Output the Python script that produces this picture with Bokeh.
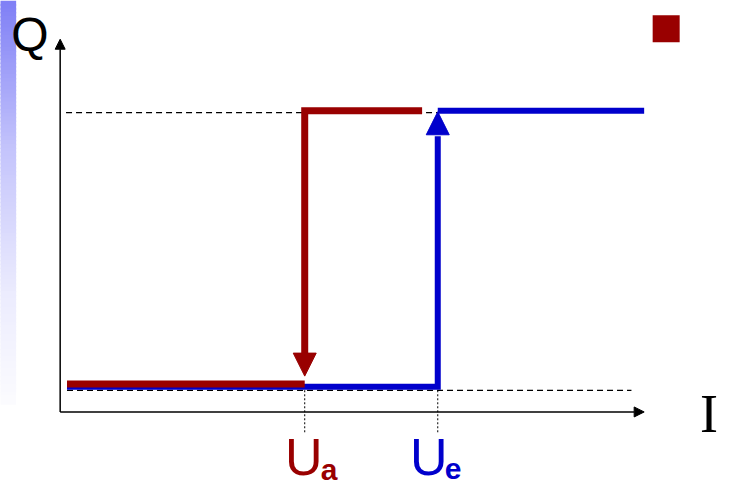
import numpy as np
from bokeh.plotting import figure
from bokeh.models import Range1d, Arrow, NormalHead, ColumnDataSource
from bokeh.core.properties import value
from bokeh.embed import file_html
from bokeh.resources import INLINE

# ---- data (chart units: x = input, y = output Q) ----
U_a = 5.0            # switch-off threshold
U_e = 7.72           # switch-on threshold
x_start = 0.14
red_top_end = 7.4
blue_end = 11.94
dash_low_end = 11.68
dash_high_start = 0.12
q_high = 1.0
q_dash_high = 0.994
q_low_red = 0.093
q_low_blue = 0.084
q_dash_low = 0.072
red_tip = 0.119
red_head_base = 0.196
blue_tip = 0.997
blue_head_base = 0.916
dot_bottom = -0.074
x_axis_end = 11.94
y_axis_end = 1.238
marker_x = [12.39]
marker_y = [1.273]
label_main = ["U", "U"]
label_sub = ["a", "e"]
label_x = [U_a, U_e]

RED = "#990000"
BLUE = "#0000CC"

W, H = 718, 486
# view window in chart units
x0 = (0 - 61) / 50
x1 = (734 - 61) / 50
y0 = (425 - 502) / 311
y1 = (425 - 0) / 311

p = figure(width=W, height=H, output_backend="svg", toolbar_location=None,
           x_range=Range1d(x0, x1), y_range=Range1d(y0, y1), min_border=0)
p.axis.visible = False
p.grid.visible = False
p.outline_line_color = None
p.background_fill_color = "white"
p.border_fill_color = "white"

# left decorative gradient bar
ys_px = np.arange(0, 416, 4)
r = np.interp(ys_px, [0, 150, 300, 415], [128, 196, 236, 252])
b = np.interp(ys_px, [0, 150, 300, 415], [246, 252, 254, 255])
cols = ["#%02x%02x%02x" % (int(a), int(a), int(c)) for a, c in zip(r, b)]
p.quad(left=(0 - 61) / 50 - 0.1, right=(16 - 61) / 50,
       top=(425 - ys_px) / 311, bottom=(425 - ys_px - 5.5) / 311,
       fill_color=cols, line_color=None)

# axes with arrows
p.add_layout(Arrow(x_start=0, y_start=0, x_end=0, y_end=y_axis_end,
                   line_width=1.5, line_color="black",
                   end=NormalHead(size=10, fill_color="black", line_color="black")))
p.add_layout(Arrow(x_start=0, y_start=0, x_end=x_axis_end, y_end=0,
                   line_width=1.5, line_color="black",
                   end=NormalHead(size=10, fill_color="black", line_color="black")))

# dashed reference lines
p.line([dash_high_start, U_e], [q_dash_high, q_dash_high], line_color="black",
       line_width=1.3, line_dash="6 4")
p.line([x_start, dash_low_end], [q_dash_low, q_dash_low], line_color="black",
       line_width=1.3, line_dash="6 4")
# dotted drop lines
p.segment(x0=label_x, y0=[q_dash_low] * 2, x1=label_x, y1=[dot_bottom] * 2,
          line_color="black", line_width=1, line_dash="2 2")

# blue curve (switching on)
p.line([x_start, U_e, U_e], [q_low_blue, q_low_blue, blue_head_base],
       line_color=BLUE, line_width=6, line_join="miter")
p.line([U_e, blue_end], [q_high, q_high], line_color=BLUE, line_width=6)
p.add_layout(Arrow(x_start=U_e, y_start=blue_head_base, x_end=U_e, y_end=blue_tip,
                   line_alpha=0, line_width=1,
                   end=NormalHead(size=23, fill_color=BLUE, line_color=BLUE, line_width=1)))

# red curve (switching off)
p.line([x_start, U_a], [q_low_red, q_low_red], line_color=RED, line_width=7)
p.line([U_a, U_a, red_top_end], [red_head_base, q_high, q_high],
       line_color=RED, line_width=7, line_join="miter")
p.add_layout(Arrow(x_start=U_a, y_start=red_head_base, x_end=U_a, y_end=red_tip,
                   line_alpha=0, line_width=1,
                   end=NormalHead(size=23, fill_color=RED, line_color=RED, line_width=1)))

# legend-like square
p.scatter(marker_x, marker_y, marker="square", size=27, fill_color=RED, line_color=None)

# labels
src = ColumnDataSource(dict(x=label_x, y=[(425 - 472) / 311] * 2, ys=[(425 - 484) / 311] * 2,
                            t=label_main, s=label_sub, c=[RED, BLUE],
                            xo=[-1, -9], xos=[16, 7]))
p.text(x="x", y="y", text="t", source=src, text_color="c", text_font=value("Liberation Sans"),
       text_font_size="52px", text_align="center", text_baseline="middle",
       x_offset="xo")
p.text(x="x", y="ys", text="s", source=src, text_color="c", text_font=value("Liberation Sans"),
       text_font_size="30px", text_font_style="bold", text_align="left",
       text_baseline="middle", x_offset="xos")

p.text(x=[(11 - 61) / 50], y=[(425 - 35.5) / 311], text=["Q"], text_color="black",
       text_font=value("Liberation Sans"), text_font_size="48px",
       text_align="left", text_baseline="middle")
p.text(x=[(715 - 61) / 50], y=[(425 - 427) / 311], text=["I"], text_color="black",
       text_font=value("Liberation Serif"), text_font_size="54px",
       text_align="left", text_baseline="middle")

open("out.html", "w").write(file_html(p, INLINE))
